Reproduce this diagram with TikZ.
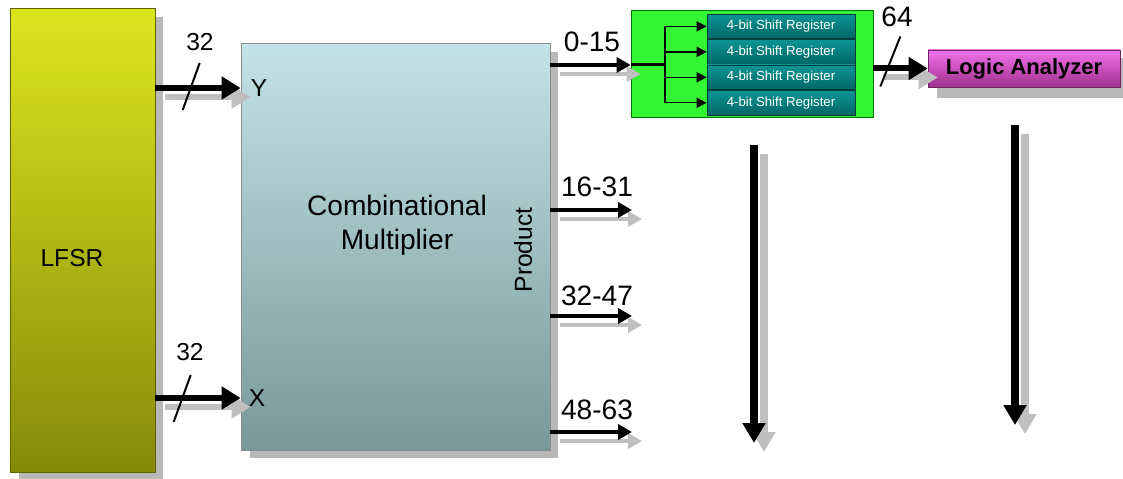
\documentclass[tikz,border=0pt]{standalone}
\usepackage{fontspec}
\setmainfont{Liberation Sans}
\usepackage{tikz}
\usetikzlibrary{positioning, arrows.meta, calc, shadows}
\usepackage{xcolor}
\definecolor{lfsr-top}{HTML}{DCE61E}
\definecolor{lfsr-bot}{HTML}{868A0A}
\definecolor{mult-top}{HTML}{C2E3E9}
\definecolor{mult-bot}{HTML}{7A9898}
\definecolor{reg-green}{HTML}{33F533}
\definecolor{reg-top}{HTML}{0E9494}
\definecolor{reg-bot}{HTML}{006666}
\definecolor{la-top}{HTML}{F272EA}
\definecolor{la-bot}{HTML}{A0308E}

\tikzset{
  box/.style={draw, rectangle, inner sep=0pt,
    drop shadow={shadow xshift=0.17cm, shadow yshift=-0.17cm, fill=black!28, opacity=1}},
  regbox/.style={draw=reg-bot!60!black, rectangle, top color=reg-top, bottom color=reg-bot,
    minimum width=2.96cm, minimum height=0.495cm, inner sep=0pt,
    text=white, font=\fontsize{7.5}{8}\selectfont},
  bus/.style={line width=0.12cm, -{Triangle[length=0.38cm,width=0.44cm]}},
  outbus/.style={line width=0.08cm, -{Triangle[length=0.28cm,width=0.3cm]}},
  downbus/.style={line width=0.15cm, -{Triangle[length=0.4cm,width=0.44cm]}},
  ghost/.style={color=black!25, transform canvas={xshift=0.2cm,yshift=-0.18cm}},
  slash/.style={line width=0.04cm},
  lbl/.style={font=\fontsize{16}{18}\selectfont, inner sep=0pt}
}

\begin{document}
\begin{tikzpicture}[x=0.02cm, y=-0.02cm, node distance=0pt]
\useasboundingbox (0,0) rectangle (1123,479);

% blocks
\node[box, draw=lfsr-bot!70!black, top color=lfsr-top, bottom color=lfsr-bot,
  minimum width=2.9cm, minimum height=9.28cm] (lfsr) at (82.5,240) {};
\node[font=\fontsize{14}{16}\selectfont] at (72,258) {LFSR};

\node[box, draw=black!45, top color=mult-top, bottom color=mult-bot,
  minimum width=6.18cm, minimum height=8.14cm] (mult) at (395.5,246.5) {};
\node[align=center, font=\fontsize{16}{19.5}\selectfont] at (397,225) {Combinational\\Multiplier};
\node[rotate=90, font=\fontsize{14}{16}\selectfont] at (523,250) {Product};
\node[font=\fontsize{14}{16}\selectfont] at (259,88) {Y};
\node[font=\fontsize{14}{16}\selectfont] at (257,398) {X};

\node[draw=green!45!black, fill=reg-green, rectangle,
  minimum width=4.84cm, minimum height=2.14cm] (shreg) at (752,63.5) {};
\node[regbox] (r1) at (781,26.4) {4-bit Shift Register};
\node[regbox, below=of r1] (r2) {4-bit Shift Register};
\node[regbox, below=of r2] (r3) {4-bit Shift Register};
\node[regbox, below=of r3] (r4) {4-bit Shift Register};

\node[box, draw=la-bot!70!black, top color=la-top, bottom color=la-bot,
  minimum width=3.84cm, minimum height=0.74cm,
  drop shadow={shadow xshift=0.18cm, shadow yshift=-0.22cm, fill=black!28, opacity=1},
  font=\fontsize{12.5}{15}\selectfont\bfseries] (la) at (1024,68.5) {Logic Analyzer};

% ports
\coordinate (yin) at (mult.west |- 0,88);
\coordinate (xin) at (mult.west |- 0,398);
\coordinate (p0) at (mult.east |- 0,65);
\coordinate (p1) at (mult.east |- 0,210);
\coordinate (p2) at (mult.east |- 0,316);
\coordinate (p3) at (mult.east |- 0,432);
\coordinate (q1) at (632,210);
\coordinate (q2) at (632,316);
\coordinate (q3) at (632,432);
\coordinate (split) at (665,65);
\coordinate (d1s) at (754,145);
\coordinate (d1e) at (754,443);
\coordinate (d2s) at (1015,125);
\coordinate (d2e) at (1015,425);

% shadows of the buses
\draw[bus, ghost] (lfsr.east |- yin) -- (yin);
\draw[bus, ghost] (lfsr.east |- xin) -- (xin);
\draw[outbus, ghost] (p0) -- (shreg.west |- p0);
\draw[outbus, ghost] (p1) -- (q1);
\draw[outbus, ghost] (p2) -- (q2);
\draw[outbus, ghost] (p3) -- (q3);
\draw[bus, ghost] (shreg.east |- la) -- (la.west);
\draw[downbus, ghost] (d1s) -- (d1e);
\draw[downbus, ghost] (d2s) -- (d2e);

% buses
\draw[bus] (lfsr.east |- yin) -- (yin);
\draw[bus] (lfsr.east |- xin) -- (xin);
\draw[outbus] (p0) -- (shreg.west |- p0);
\draw[outbus] (p1) -- (q1);
\draw[outbus] (p2) -- (q2);
\draw[outbus] (p3) -- (q3);
\draw[bus] (shreg.east |- la) -- (la.west);
\draw[downbus] (d1s) -- (d1e);
\draw[downbus] (d2s) -- (d2e);

% fan-out inside the register block
\draw[line width=0.06cm] (shreg.west |- p0) -- (split);
\draw[line width=0.03cm] (split |- r1) -- (split |- r4);
\foreach \r in {r1,r2,r3,r4}
  \draw[line width=0.03cm, -{Triangle[length=0.2cm,width=0.2cm]}] (split |- \r) -- (\r.west);

% bus widths
\draw[slash] ($(yin)+(-58,22)$) -- ++(17,-47);
\draw[slash] ($(xin)+(-67,24)$) -- ++(17,-47);
\draw[slash] ($(shreg.east |- la)+(7,18)$) -- ++(20,-50);
\node[font=\fontsize{14}{16}\selectfont] at (200,42) {32};
\node[font=\fontsize{14}{16}\selectfont] at (190,352) {32};
\node[lbl] at (897,17) {64};
\node[lbl] at (592,42) {0-15};
\node[lbl] at (597,187) {16-31};
\node[lbl] at (597,296) {32-47};
\node[lbl] at (597,410) {48-63};
\end{tikzpicture}
\end{document}
